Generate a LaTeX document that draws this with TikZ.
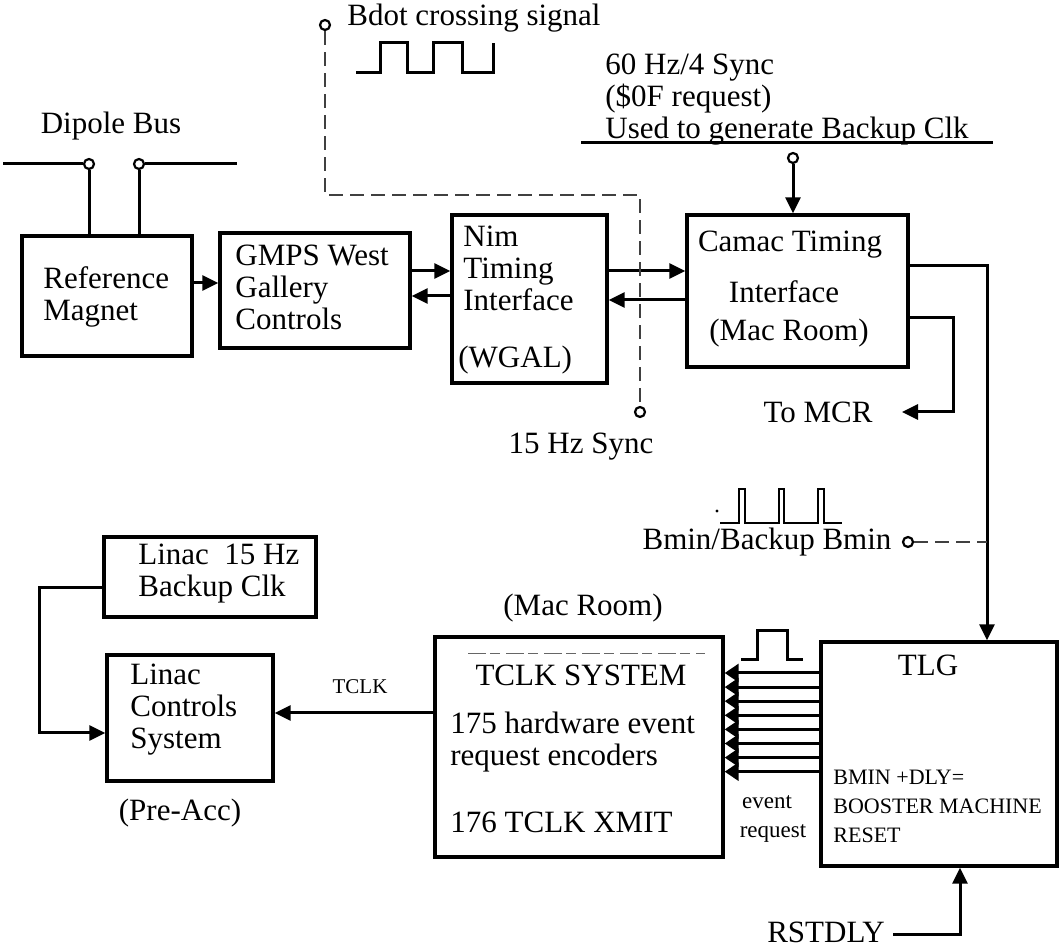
\documentclass[tikz,border=0pt]{standalone}
\usepackage{fontspec}
\setmainfont{Liberation Serif}
\usetikzlibrary{arrows.meta,fit}
\tikzset{
  blk/.style={draw, line width=1.7pt, inner sep=0pt},
  lbl/.style={font=\fontsize{15.5pt}{16pt}\selectfont, inner sep=0pt, align=left},
  note/.style={font=\fontsize{11pt}{14.5pt}\selectfont, inner sep=0pt, align=left},
  wire/.style={line width=1.5pt},
  arr/.style={wire, -{Triangle[length=8pt,width=7.5pt]}},
  evarr/.style={wire, -{Triangle[length=7pt,width=9pt]}},
  sig/.style={dash pattern=on 7pt off 3.5pt, line width=1.4pt, black!75},
  port/.style={circle, draw, line width=1.1pt, minimum size=5pt, inner sep=0pt, fill=white},
}
\begin{document}
\begin{tikzpicture}[x=0.5pt,y=-0.5pt]
\useasboundingbox (0,0) rectangle (1061,951);

% boxes
\node[blk, fit={(22,236) (192,356)}] (ref) {};
\node[blk, fit={(220,233) (410,348)}] (gmps) {};
\node[blk, fit={(452,215) (607,383)}] (nim) {};
\node[blk, fit={(687,215) (908,367)}] (camac) {};
\node[blk, fit={(104,537) (316,617)}] (bkclk) {};
\node[blk, fit={(107,655) (273,781)}] (linac) {};
\node[blk, fit={(435,637) (723,857)}] (tclk) {};
\node[blk, fit={(821,642) (1057,866)}] (tlg) {};

% box texts
\node[lbl, anchor=west] (refT) at (43,297) {Reference\\Magnet};
\node[lbl, anchor=west] (gmpsT) at (235,287) {GMPS West\\Gallery\\Controls};
\node[lbl, anchor=west] (nimT) at (463,268) {Nim\\Timing\\Interface};
\node[lbl, anchor=west] (nimW) at (458,360) {(WGAL)};
\node[lbl] (camT) at (790,245) {Camac Timing};
\node[lbl] (camI) at (784,292) {Interface};
\node[lbl] (camM) at (789,333) {(Mac Room)};
\node[lbl, anchor=west] (bkT) at (138,574) {Linac\ \ 15 Hz\\Backup Clk};
\node[lbl, anchor=west] (linT) at (130,710) {Linac\\Controls\\System};
\node[lbl] (tclkT) at (581,675) {TCLK SYSTEM};
\node[lbl, anchor=west] (encT) at (450,742) {175 hardware event\\request encoders};
\node[lbl, anchor=west] (xmitT) at (450,822) {176 TCLK XMIT};
\node[lbl] (tlgT) at (928,665) {TLG};
\node[note, anchor=west] (rstT) at (833,806) {BMIN +DLY=\\BOOSTER MACHINE\\RESET};

% free labels
\node[lbl] (dipT) at (111,126) {Dipole Bus};
\node[lbl, anchor=west] (bdotT) at (347,18) {Bdot crossing signal};
\node[lbl, anchor=west] (sixtyT) at (605,100) {60 Hz/4 Sync\\(\$0F request)\\Used to generate Backup Clk};
\node[lbl] (fifT) at (581,447) {15 Hz Sync};
\node[lbl] (mcrT) at (818,412) {To MCR};
\node[lbl] (bminT) at (767,542) {Bmin/Backup Bmin};
\node[lbl] (macT) at (583,608) {(Mac Room)};
\node[lbl] (preT) at (180,813) {(Pre-Acc)};
\node[lbl] (rdlyT) at (826,932) {RSTDLY};
\node[font=\fontsize{10.5pt}{12pt}\selectfont, inner sep=0pt] (tclkL) at (360,687) {TCLK};
\node[font=\fontsize{11.5pt}{12pt}\selectfont, inner sep=0pt] (evT) at (767,802) {event};
\node[font=\fontsize{11.5pt}{12pt}\selectfont, inner sep=0pt] (reqT) at (773,833) {request};

% ports
\node[port] (dipA) at (89,164) {};
\node[port] (dipB) at (139,164) {};
\node[port] (bdotP) at (325,25) {};
\node[port] (syncP) at (640,412) {};
\node[port] (sixtyP) at (793,158) {};
\node[port] (bminP) at (908,542) {};
\coordinate (busL) at (3,164);
\coordinate (busR) at (237,164);
\coordinate (syncL) at (581,143);
\coordinate (syncR) at (993,143);
\coordinate (mcrTip) at (902,412);
\coordinate (rstS) at (893,934);

% dipole bus
\draw[wire] (busL) -- (dipA.west);
\draw[wire] (dipB.east) -- (busR);
\draw[wire] (dipA.south) -- (dipA.south |- ref.north);
\draw[wire] (dipB.south) -- (dipB.south |- ref.north);

% upper chain
\draw[arr] (ref.east |- 0,283) -- (gmps.west |- 0,283);
\draw[arr] (gmps.east |- 0,271) -- (nim.west |- 0,271);
\draw[arr] (nim.west |- 0,296) -- (gmps.east |- 0,296);
\draw[arr] (nim.east |- 0,271) -- (camac.west |- 0,271);
\draw[arr] (camac.west |- 0,300) -- (nim.east |- 0,300);
\draw[wire] (syncL) -- (syncR);
\draw[arr] (sixtyP.south) -- (camac.north -| sixtyP);
\draw[arr] (camac.east |- 0,266) -| (tlg.north -| 987,0);
\draw[arr] (camac.east |- 0,318) -| (953,412) -- (mcrTip);

% signals
\draw[sig] (bdotP.south) -- (325,195) -- (640,195) -- (syncP.north);
\draw[sig] (bminP.east) -- (bminP.east -| 987,0);
\draw[wire] (356,73) -- (380,73) -- (380,43) -- (407,43) -- (407,73) -- (433,73)
  -- (433,43) -- (462,43) -- (462,73) -- (493,73) -- (493,43);
\fill (717,511) circle (1.6);
\draw[line width=1.1pt] (720,523) -- (739,523) -- (739,489) -- (745,489) -- (745,523)
  -- (779,523) -- (779,489) -- (784,489) -- (784,523) -- (818,523) -- (818,489)
  -- (824,489) -- (824,523) -- (842,523);
\draw[wire] (741,660) -- (757,660) -- (757,631) -- (787,631) -- (787,660) -- (803,660);
\draw[dash pattern=on 9pt off 2pt on 5pt off 3pt, line width=0.5pt, black!60] (468,654) -- (705,654);

% event requests
\foreach \i in {0,...,7} {
  \pgfmathsetmacro\ey{673+14.1*\i}
  \draw[evarr] (tlg.west |- 0,\ey) -- (tclk.east |- 0,\ey);
}

% lower chain
\draw[arr] (tclk.west |- 0,713) -- (linac.east |- 0,713);
\draw[arr] (bkclk.west |- 0,588) -- (39,588) |- (linac.west |- 0,733);
\draw[arr] (rstS) -| (tlg.south -| 960,0);
\end{tikzpicture}
\end{document}
